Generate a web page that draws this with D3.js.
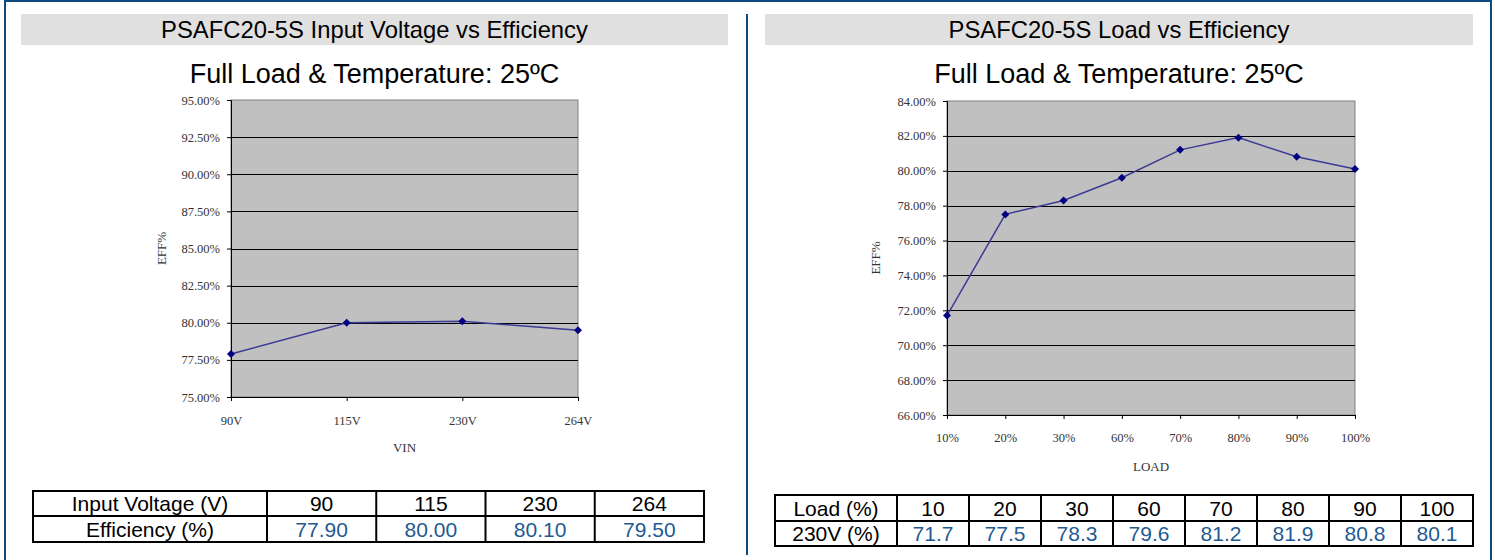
<!DOCTYPE html>
<html>
<head>
<meta charset="utf-8">
<script src="https://cdn.jsdelivr.net/npm/d3@7/dist/d3.min.js"></script>
<style>
  html, body { margin: 0; padding: 0; background: #fff; }
  svg { display: block; }
  .ax text { font-family: "Liberation Serif", "DejaVu Serif", serif; font-size: 12.5px; fill: #333; }
</style>
</head>
<body>
<svg id="chart" width="1495" height="560"></svg>
<script>
// ---- Data ----
const vinCategories = ["90V", "115V", "230V", "264V"];
const vinEfficiency = [77.9, 80.0, 80.1, 79.5];
const vinTicks = [75, 77.5, 80, 82.5, 85, 87.5, 90, 92.5, 95];
const vinTableHeader = ["Input Voltage (V)", "90", "115", "230", "264"];
const vinTableValues = ["Efficiency (%)", "77.90", "80.00", "80.10", "79.50"];

const loadCategories = ["10%", "20%", "30%", "60%", "70%", "80%", "90%", "100%"];
const loadEfficiency = [71.7, 77.5, 78.3, 79.6, 81.2, 81.9, 80.8, 80.1];
const loadTicks = [66, 68, 70, 72, 74, 76, 78, 80, 82, 84];
const loadTableHeader = ["Load (%)", "10", "20", "30", "60", "70", "80", "90", "100"];
const loadTableValues = ["230V (%)", "71.7", "77.5", "78.3", "79.6", "81.2", "81.9", "80.8", "80.1"];

const titles = ["PSAFC20-5S Input Voltage vs Efficiency", "PSAFC20-5S Load vs Efficiency"];
const subtitle = "Full Load & Temperature: 25ºC";

// ---- Drawing ----
const svg = d3.select("#chart");
const frameColor = "#0d4a7e";

// frame
svg.append("rect").attr("x", 4).attr("y", 0).attr("width", 1488).attr("height", 2).attr("fill", frameColor);
svg.append("rect").attr("x", 4).attr("y", 0).attr("width", 2).attr("height", 560).attr("fill", frameColor);
svg.append("rect").attr("x", 1490).attr("y", 0).attr("width", 2).attr("height", 560).attr("fill", frameColor);
svg.append("rect").attr("x", 746).attr("y", 14).attr("width", 2).attr("height", 541).attr("fill", frameColor);

function panel(cfg) {
  const g = svg.append("g");
  // title bar
  g.append("rect").attr("x", cfg.barX0).attr("y", 14).attr("width", cfg.barX1 - cfg.barX0).attr("height", 31).attr("fill", "#e0e0e0");
  g.append("text").attr("x", (cfg.barX0 + cfg.barX1) / 2).attr("y", 38)
    .attr("text-anchor", "middle").attr("font-family", "Liberation Sans, Arial, sans-serif")
    .attr("font-size", 23.8).attr("fill", "#000").text(cfg.title);
  g.append("text").attr("x", (cfg.barX0 + cfg.barX1) / 2).attr("y", 83)
    .attr("text-anchor", "middle").attr("font-family", "Liberation Sans, Arial, sans-serif")
    .attr("font-size", 27).attr("fill", "#000").text(subtitle);

  const x = d3.scalePoint().domain(cfg.categories).range([cfg.px0, cfg.px1]).padding(0);
  const y = d3.scaleLinear().domain([cfg.ticks[0], cfg.ticks[cfg.ticks.length - 1]]).range([cfg.py1, cfg.py0]);

  // plot bg
  g.append("rect").attr("x", cfg.px0).attr("y", cfg.py0).attr("width", cfg.px1 - cfg.px0).attr("height", cfg.py1 - cfg.py0)
    .attr("fill", "#c0c0c0").attr("stroke", "#808080").attr("stroke-width", 1);

  // gridlines
  g.append("g").selectAll("line").data(cfg.ticks.slice(1, -1)).join("line")
    .attr("x1", cfg.px0).attr("x2", cfg.px1)
    .attr("y1", d => Math.round(y(d)) + 0.5).attr("y2", d => Math.round(y(d)) + 0.5)
    .attr("stroke", "#000").attr("stroke-width", 1);

  // y axis
  const yAxis = d3.axisLeft(y).tickValues(cfg.ticks).tickSize(4).tickPadding(7)
    .tickFormat(d => d.toFixed(2) + "%");
  const ya = g.append("g").attr("class", "ax").attr("transform", `translate(${cfg.px0},0)`).call(yAxis);
  ya.select(".domain").attr("stroke", "#000");
  ya.selectAll(".tick line").attr("stroke", "#000");

  // x axis
  const xAxis = d3.axisBottom(x).tickSize(4).tickPadding(cfg.xPad);
  const xa = g.append("g").attr("class", "ax").attr("transform", `translate(0,${cfg.py1})`).call(xAxis);
  xa.select(".domain").attr("stroke", "#000");
  xa.selectAll(".tick line").attr("stroke", "#000");

  // axis titles
  g.append("text").attr("x", (cfg.px0 + cfg.px1) / 2).attr("y", cfg.py1 + cfg.xTitleDy)
    .attr("text-anchor", "middle").attr("font-family", "Liberation Serif, serif").attr("font-size", 13).attr("fill", "#333")
    .text(cfg.xTitle);
  g.append("text").attr("transform", `translate(${cfg.yTitleX},${(cfg.py0 + cfg.py1) / 2}) rotate(-90)`)
    .attr("text-anchor", "middle").attr("font-family", "Liberation Serif, serif").attr("font-size", 13).attr("fill", "#333")
    .text("EFF%");

  // line
  const line = d3.line().x((d, i) => x(cfg.categories[i])).y(d => y(d));
  g.append("path").datum(cfg.values).attr("d", line).attr("fill", "none").attr("stroke", "#3b3b95").attr("stroke-width", 1.5);
  g.append("g").selectAll("path").data(cfg.values).join("path")
    .attr("d", d3.symbol(d3.symbolSquare, 32))
    .attr("transform", (d, i) => `translate(${x(cfg.categories[i])},${y(d)}) rotate(45)`)
    .attr("fill", "#000080");

  // table
  const t = g.append("g");
  const cols = cfg.colEdges;
  const rowsY = cfg.rowEdges;
  const rows = [cfg.header, cfg.tvalues];
  rows.forEach((row, r) => {
    row.forEach((txt, c) => {
      t.append("text").attr("x", (cols[c] + cols[c + 1]) / 2).attr("y", (rowsY[r] + rowsY[r + 1]) / 2 + 7.5)
        .attr("text-anchor", "middle").attr("font-family", "Liberation Sans, Arial, sans-serif").attr("font-size", 21)
        .attr("fill", (r === 1 && c > 0) ? "#1f5a93" : "#000").text(txt);
    });
  });
  t.append("rect").attr("x", cols[0]).attr("y", rowsY[0]).attr("width", cols[cols.length - 1] - cols[0]).attr("height", rowsY[2] - rowsY[0])
    .attr("fill", "none").attr("stroke", "#000").attr("stroke-width", 2);
  t.append("line").attr("x1", cols[0]).attr("x2", cols[cols.length - 1]).attr("y1", rowsY[1]).attr("y2", rowsY[1]).attr("stroke", "#000").attr("stroke-width", 2);
  t.selectAll("line.v").data(cols.slice(1, -1)).join("line").attr("class", "v")
    .attr("x1", d => d).attr("x2", d => d).attr("y1", rowsY[0]).attr("y2", rowsY[2]).attr("stroke", "#000").attr("stroke-width", 2);
}

const leftCols = [33, 267].concat(d3.range(1, 5).map(i => 267 + i * 109.25));
panel({
  barX0: 21, barX1: 728, title: titles[0],
  categories: vinCategories, values: vinEfficiency, ticks: vinTicks,
  px0: 231, px1: 578, py0: 100, py1: 397,
  xTitle: "VIN", xTitleDy: 55, yTitleX: 166, xPad: 15,
  header: vinTableHeader, tvalues: vinTableValues,
  colEdges: leftCols, rowEdges: [491, 516, 542]
});

const rightCols = [775, 897].concat(d3.range(1, 9).map(i => 897 + i * 72));
panel({
  barX0: 765, barX1: 1473, title: titles[1],
  categories: loadCategories, values: loadEfficiency, ticks: loadTicks,
  px0: 947, px1: 1355, py0: 101, py1: 415,
  xTitle: "LOAD", xTitleDy: 56, yTitleX: 880, xPad: 14,
  header: loadTableHeader, tvalues: loadTableValues,
  colEdges: rightCols, rowEdges: [495, 521, 546]
});
</script>
</body>
</html>
